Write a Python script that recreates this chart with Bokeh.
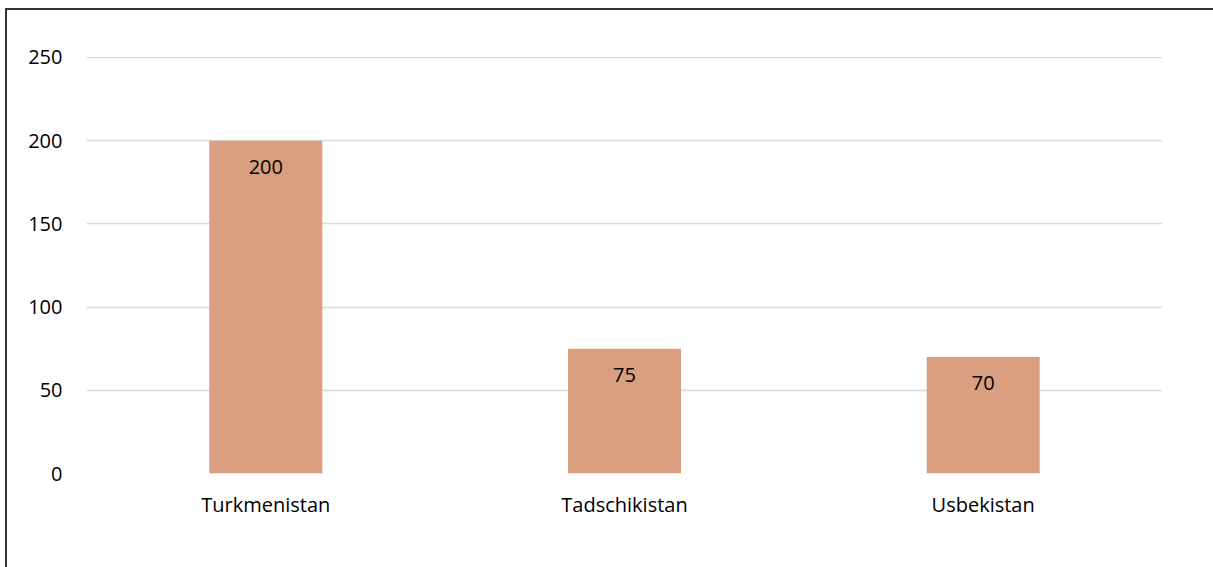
from bokeh.plotting import figure
from bokeh.models import Range1d, ColumnDataSource, FixedTicker
from bokeh.core.properties import value
from bokeh.embed import file_html
from bokeh.resources import INLINE

categories = ["Turkmenistan", "Tadschikistan", "Usbekistan"]
values = [200, 75, 70]
labels = ["200", "75", "70"]
y_ticks = [0, 50, 100, 150, 200, 250]

FONT = "Open Sans"
BAR = "#D99F80"

src = ColumnDataSource(dict(cat=categories, val=values, lab=labels))

p = figure(
    x_range=categories, y_range=Range1d(0, 250.6),
    frame_width=1076, frame_height=417,
    min_border_left=79, min_border_right=51, min_border_top=46, min_border_bottom=94,
    output_backend="svg", toolbar_location=None,
)
p.styles = {"border-left": "2px solid #333333", "border-top": "2px solid #333333",
            "margin-left": "5px", "margin-top": "8px"}
p.outline_line_color = None
p.background_fill_color = "white"
p.border_fill_color = "white"

p.vbar(x="cat", top="val", width=0.315, source=src, fill_color=BAR, line_color=None)
p.text(x="cat", y="val", text="lab", source=src, text_align="center", text_baseline="top",
       y_offset=19, text_font=value(FONT), text_font_size="20px", text_color="#000000")

p.xgrid.grid_line_color = None
p.ygrid.grid_line_color = "#D9D9D9"
p.ygrid.grid_line_width = 1.5
p.yaxis.ticker = FixedTicker(ticks=y_ticks)

for ax in (p.xaxis, p.yaxis):
    ax.axis_line_color = None
    ax.major_tick_line_color = None
    ax.minor_tick_line_color = None
    ax.major_label_text_font = FONT
    ax.major_label_text_font_size = "20px"
    ax.major_label_text_color = "#000000"
p.yaxis.major_label_standoff = 18
p.xaxis.major_label_standoff = 11

open("out.html", "w").write(file_html(p, INLINE))
